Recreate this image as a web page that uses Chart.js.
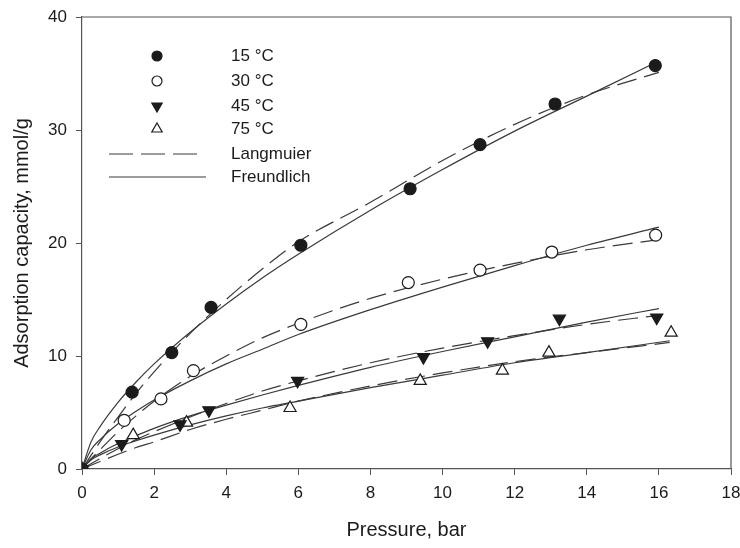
<!DOCTYPE html>
<html>
<head>
<meta charset="utf-8">
<script src="https://cdn.jsdelivr.net/npm/chart.js@4.4.0/dist/chart.umd.min.js"></script>
<style>
    body { margin: 0; background: #fff; }
    canvas { display: block; }
</style>
</head>
<body>
<canvas id="chart" width="740" height="548"></canvas>
<script>
// Measured points (pressure, bar / adsorption, mmol/g)
const p15 = [0, 1.39, 2.49, 3.58, 6.07, 9.1, 11.04, 13.12, 15.9];
const q15 = [0, 6.8, 10.3, 14.3, 19.8, 24.8, 28.7, 32.3, 35.7];
const p30 = [0, 1.17, 2.19, 3.09, 6.07, 9.05, 11.04, 13.03, 15.91];
const q30 = [0, 4.3, 6.2, 8.7, 12.8, 16.5, 17.6, 19.2, 20.7];
const p45 = [0, 1.1, 2.72, 3.52, 5.98, 9.47, 11.25, 13.24, 15.94];
const q45 = [0, 2.2, 3.95, 5.2, 7.8, 9.9, 11.3, 13.3, 13.4];
const p75 = [0, 1.42, 2.9, 5.77, 9.38, 11.66, 12.95, 16.34];
const q75 = [0, 3.0, 4.1, 5.4, 7.8, 8.7, 10.3, 12.06];

// Fitted curves
const pFit   = [0, 0.25, 0.5, 1, 1.5, 2, 3, 4, 5, 6, 8, 10, 12, 14, 16];
const pFit75 = [0, 0.25, 0.5, 1, 1.5, 2, 3, 4, 5, 6, 8, 10, 12, 14, 16.3];
const freund15 = [0, 2.4, 3.75, 5.9, 7.7, 9.3, 12.1, 14.6, 16.9, 19.0, 22.9, 26.5, 29.9, 33.0, 36.1];
const lang15   = [0, 1.2, 2.4, 4.6, 6.7, 8.6, 12.0, 15.0, 17.7, 20.1, 23.6, 27.3, 30.5, 33.1, 35.1];
const freund30 = [0, 1.7, 2.6, 4.0, 5.1, 6.1, 7.8, 9.3, 10.6, 11.9, 14.1, 16.1, 18.0, 19.8, 21.4];
const lang30   = [0, 0.9, 1.7, 3.3, 4.7, 6.0, 8.2, 10.0, 11.6, 12.9, 15.1, 16.8, 18.2, 19.4, 20.3];
const freund45 = [0, 0.9, 1.4, 2.25, 2.95, 3.6, 4.7, 5.65, 6.55, 7.4, 9.0, 10.4, 11.7, 13.0, 14.2];
const lang45   = [0, 0.46, 0.92, 1.8, 2.6, 3.3, 4.6, 5.8, 6.9, 7.8, 9.4, 10.7, 11.8, 12.8, 13.6];
const freund75 = [0, 0.8, 1.25, 1.95, 2.5, 3.0, 3.9, 4.7, 5.4, 6.0, 7.2, 8.3, 9.4, 10.3, 11.35];
const lang75   = [0, 0.33, 0.66, 1.3, 1.9, 2.4, 3.5, 4.4, 5.2, 6.0, 7.35, 8.5, 9.5, 10.3, 11.2];

const seriesLabels = ['15 °C', '30 °C', '45 °C', '75 °C'];
const fitLabels = ['Langmuier', 'Freundlich'];

const INK = '#1b1b1b';
const LINE = '#3a3a3a';
const FONT = "'Liberation Sans', Arial, sans-serif";

const toXY = (xs, ys) => xs.map((x, i) => ({ x: x, y: ys[i] }));

function pointSet(label, xs, ys, style, filled, rotation)
{
    return {
        label: label,
        data: toXY(xs, ys),
        showLine: false,
        pointStyle: style,
        rotation: rotation || 0,
        pointRadius: style === 'triangle' ? 7 : 6,
        pointBorderWidth: 1.2,
        pointBorderColor: INK,
        pointBackgroundColor: filled ? INK : '#fff',
        order: 0
    };
}

function fitSet(label, xs, ys, dashed)
{
    return {
        label: label,
        data: toXY(xs, ys),
        showLine: true,
        pointRadius: 0,
        borderColor: LINE,
        borderWidth: 1.2,
        borderDash: dashed ? [20, 8] : [],
        cubicInterpolationMode: 'monotone',
        order: 1
    };
}

const datasets =
[
    pointSet(seriesLabels[0], p15, q15, 'circle', true),
    pointSet(seriesLabels[1], p30, q30, 'circle', false),
    pointSet(seriesLabels[2], p45, q45, 'triangle', true, 180),
    pointSet(seriesLabels[3], p75, q75, 'triangle', false),
    fitSet(fitLabels[0], pFit, lang15, true),
    fitSet(fitLabels[1], pFit, freund15, false),
    fitSet(fitLabels[0], pFit, lang30, true),
    fitSet(fitLabels[1], pFit, freund30, false),
    fitSet(fitLabels[0], pFit, lang45, true),
    fitSet(fitLabels[1], pFit, freund45, false),
    fitSet(fitLabels[0], pFit75, lang75, true),
    fitSet(fitLabels[1], pFit75, freund75, false)
];

// Frame on top/right and the legend inside the plot
const framePlugin =
{
    id: 'frameAndLegend',
    afterDraw(chart)
    {
        const ctx = chart.ctx;
        const a = chart.chartArea;

        ctx.save();
        ctx.strokeStyle = '#555';
        ctx.lineWidth = 1.2;
        ctx.beginPath();
        ctx.moveTo(a.left, a.top);
        ctx.lineTo(a.right, a.top);
        ctx.lineTo(a.right, a.bottom);
        ctx.stroke();

        const rows = [56, 81, 106, 129, 154, 177];
        const symX = 157, textX = 231;

        ctx.font = '17px ' + FONT;
        ctx.textBaseline = 'middle';
        ctx.fillStyle = INK;

        for (let i = 0; i < 4; i++)
        {
            const ds = chart.data.datasets[i];
            ctx.fillStyle = ds.pointBackgroundColor;
            ctx.strokeStyle = ds.pointBorderColor;
            ctx.lineWidth = ds.pointBorderWidth;
            Chart.helpers.drawPoint(ctx, {
                pointStyle: ds.pointStyle,
                radius: ds.pointRadius - 1,
                rotation: ds.rotation,
                borderWidth: ds.pointBorderWidth
            }, symX, rows[i]);
            ctx.fillStyle = INK;
            ctx.fillText(ds.label, textX, rows[i]);
        }

        ctx.strokeStyle = LINE;
        ctx.lineWidth = 1.2;
        ctx.setLineDash([24, 8]);
        ctx.beginPath();
        ctx.moveTo(109, rows[4]);
        ctx.lineTo(198, rows[4]);
        ctx.stroke();
        ctx.setLineDash([]);
        ctx.beginPath();
        ctx.moveTo(109, rows[5]);
        ctx.lineTo(206, rows[5]);
        ctx.stroke();

        ctx.fillStyle = INK;
        ctx.fillText(fitLabels[0], textX, rows[4]);
        ctx.fillText(fitLabels[1], textX, rows[5]);
        ctx.restore();
    }
};

new Chart(document.getElementById('chart'),
{
    type: 'scatter',
    data: { datasets: datasets },
    plugins: [framePlugin],
    options:
    {
        responsive: false,
        animation: false,
        layout: { padding: { left: 0, right: 9, top: 17, bottom: 0 } },
        plugins:
        {
            legend: { display: false },
            tooltip: { enabled: false }
        },
        scales:
        {
            x:
            {
                type: 'linear',
                min: 0,
                max: 18,
                afterFit: (axis) =>
                {
                    axis.height = 79;
                    axis.paddingRight = 0;
                    axis.paddingLeft = 0;
                },
                ticks: { stepSize: 2, color: INK, padding: 8, font: { family: FONT, size: 17 } },
                grid: { drawOnChartArea: false, drawTicks: true, tickLength: 6, color: '#555' },
                border: { color: '#555', width: 1.2 },
                title:
                {
                    display: true,
                    text: 'Pressure, bar',
                    color: INK,
                    font: { family: FONT, size: 20 },
                    padding: { top: 0, bottom: 6 }
                }
            },
            y:
            {
                min: 0,
                max: 40,
                afterFit: (axis) =>
                {
                    axis.width = 82;
                    axis.paddingTop = 0;
                    axis.paddingBottom = 0;
                },
                ticks: { stepSize: 10, color: INK, padding: 9, font: { family: FONT, size: 17 } },
                grid: { drawOnChartArea: false, drawTicks: true, tickLength: 6, color: '#555' },
                border: { color: '#555', width: 1.2 },
                title:
                {
                    display: true,
                    text: 'Adsorption capacity, mmol/g',
                    color: INK,
                    font: { family: FONT, size: 20 },
                    padding: { top: 10, bottom: 0 }
                }
            }
        }
    }
});
</script>
</body>
</html>
